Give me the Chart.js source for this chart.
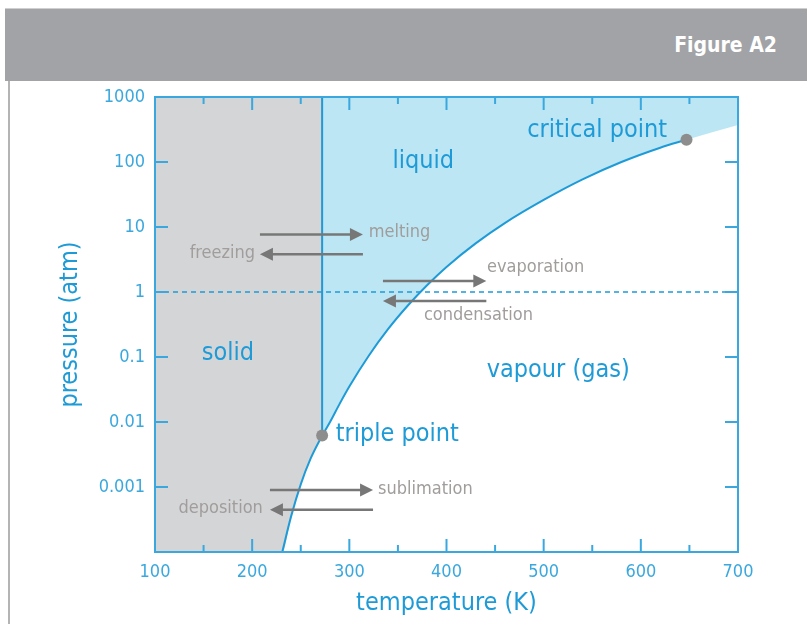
<!DOCTYPE html>
<html>
<head>
<meta charset="utf-8">
<title>Figure A2</title>
<script src="https://cdn.jsdelivr.net/npm/chart.js@4.4.1/dist/chart.umd.min.js"></script>
<style>
  body { margin: 0; background: #fff; }
  #wrap { position: relative; width: 807px; height: 624px; overflow: hidden; }
  #header {
    position: absolute; left: 5px; top: 8px; width: 802px; height: 73px;
    background: #a2a3a6; border-top: 1px solid #cfcfcf;
    color: #fff; font: bold 21px "Liberation Sans Narrow", "DejaVu Sans Condensed", sans-serif;
    line-height: 73px; text-align: right; box-sizing: border-box; padding-right: 30px;
  }
  #edge { position: absolute; left: 8px; top: 81px; width: 2px; height: 543px; background: #b4b4b4; }
  #chart { position: absolute; left: 0; top: 0; }
</style>
</head>
<body>
<div id="wrap">
  <div id="header">Figure A2</div>
  <div id="edge"></div>
  <canvas id="chart" width="807" height="624"></canvas>
</div>
<script>
// axis ticks
const xTicks = [100, 200, 300, 400, 500, 600, 700];
const xMinorTicks = [150, 250, 350, 450, 550, 650];
const yTicks = [1000, 100, 10, 1, 0.1, 0.01, 0.001];
const yTickLabels = ['1000', '100', '10', '1', '0.1', '0.01', '0.001'];

// phase boundaries (temperature K, pressure atm)
const sublimationT = [231, 240, 250, 260, 272];
const sublimationP = [0.0001, 0.00035, 0.0011, 0.0027, 0.0062];
const meltingT = [272, 272];
const meltingP = [0.0062, 1000];
const vapourT = [272, 280, 290, 300, 320, 340, 360, 380, 400, 430, 460, 500, 540, 580, 620, 647];
const vapourP = [0.0062, 0.0099, 0.019, 0.0351, 0.1045, 0.27, 0.614, 1.27, 2.43, 5.6, 11.5, 26.1, 54, 100, 166, 220];
const beyondT = [700];
const beyondP = [372];
const atmT = [100, 700];
const atmP = [1, 1];
const specialT = [272, 647];   // triple point, critical point
const specialP = [0.0062, 220];

const FONT = '"Liberation Sans Narrow", "DejaVu Sans Condensed", sans-serif';
const BLUE = '#1e9bd7';
const TICKBLUE = '#3aa8de';

const zip = (xs, ys) => xs.map((x, i) => ({ x: x, y: ys[i] }));

// annotations, anchored in data units
const regionLabels = [
  { text: 'solid', t: 175, p: 0.112, align: 'center' },
  { text: 'liquid', t: 376, p: 101, align: 'center' },
  { text: 'critical point', t: 555, p: 300, align: 'center' },
  { text: 'vapour (gas)', t: 515, p: 0.062, align: 'center' },
  { text: 'triple point', t: 286, p: 0.0065, align: 'left' }
];
const processLabels = [
  { text: 'melting', t: 320, p: 8.3, align: 'left' },
  { text: 'freezing', t: 203, p: 3.95, align: 'right' },
  { text: 'evaporation', t: 441.7, p: 2.41, align: 'left' },
  { text: 'condensation', t: 376.8, p: 0.43, align: 'left' },
  { text: 'sublimation', t: 329.5, p: 0.00093, align: 'left' },
  { text: 'deposition', t: 211, p: 0.000477, align: 'right' }
];

const arrows = [
  { from: 208, to: 314, p: 7.7 },
  { from: 314, to: 208, p: 3.82 },
  { from: 334.6, to: 441, p: 1.47 },
  { from: 441, to: 334.6, p: 0.73 },
  { from: 218.3, to: 324.4, p: 0.0009 },
  { from: 324.4, to: 218.3, p: 0.000445 }
];

const overlay = {
  id: 'overlay',
  afterDatasetsDraw(chart) {
    const { ctx, chartArea: a, scales: { x, y } } = chart;
    ctx.save();

    // frame
    ctx.strokeStyle = TICKBLUE;
    ctx.lineWidth = 2;
    ctx.strokeRect(a.left, a.top, a.right - a.left, a.bottom - a.top);

    // inner tick marks
    ctx.beginPath();
    x.ticks.forEach(t => {
      const px = x.getPixelForValue(t.value);
      const len = xTicks.includes(t.value) ? 13 : 7;
      ctx.moveTo(px, a.bottom); ctx.lineTo(px, a.bottom - len);
      ctx.moveTo(px, a.top); ctx.lineTo(px, a.top + len);
    });
    y.ticks.forEach(t => {
      const py = y.getPixelForValue(t.value);
      ctx.moveTo(a.left, py); ctx.lineTo(a.left + 13, py);
      ctx.moveTo(a.right, py); ctx.lineTo(a.right - 13, py);
    });
    ctx.stroke();

    // arrows
    ctx.strokeStyle = '#777';
    ctx.fillStyle = '#777';
    ctx.lineWidth = 2.5;
    arrows.forEach(ar => {
      const x1 = x.getPixelForValue(ar.from);
      const x2 = x.getPixelForValue(ar.to);
      const py = y.getPixelForValue(ar.p);
      const dir = x2 > x1 ? 1 : -1;
      ctx.beginPath();
      ctx.moveTo(x1, py); ctx.lineTo(x2 - dir * 10, py);
      ctx.stroke();
      ctx.beginPath();
      ctx.moveTo(x2, py);
      ctx.lineTo(x2 - dir * 13, py - 6.5);
      ctx.lineTo(x2 - dir * 13, py + 6.5);
      ctx.closePath();
      ctx.fill();
    });

    // text
    ctx.textBaseline = 'middle';
    ctx.fillStyle = BLUE;
    ctx.font = '25px ' + FONT;
    regionLabels.forEach(l => {
      ctx.textAlign = l.align;
      ctx.fillText(l.text, x.getPixelForValue(l.t), y.getPixelForValue(l.p));
    });
    ctx.fillStyle = '#a09d9b';
    ctx.font = '18px ' + FONT;
    processLabels.forEach(l => {
      ctx.textAlign = l.align;
      ctx.fillText(l.text, x.getPixelForValue(l.t), y.getPixelForValue(l.p));
    });
    ctx.restore();
  }
};

new Chart(document.getElementById('chart'), {
  type: 'line',
  data: {
    datasets: [
      {
        // triple / critical points
        data: zip(specialT, specialP),
        showLine: false,
        pointRadius: 6,
        pointBackgroundColor: '#8d8d8d',
        pointBorderWidth: 0,
        order: 0
      },
      {
        data: zip(vapourT, vapourP),
        borderColor: BLUE, borderWidth: 2, pointRadius: 0,
        cubicInterpolationMode: 'monotone', fill: false, order: 1
      },
      {
        data: zip(sublimationT, sublimationP),
        borderColor: BLUE, borderWidth: 2, pointRadius: 0,
        cubicInterpolationMode: 'monotone', fill: false, order: 1
      },
      {
        data: zip(meltingT, meltingP),
        borderColor: BLUE, borderWidth: 2, pointRadius: 0, fill: false, order: 1
      },
      {
        data: zip(atmT, atmP),
        borderColor: BLUE, borderWidth: 1.5, borderDash: [5, 4], pointRadius: 0, fill: false, order: 2
      },
      {
        // liquid region
        data: zip(vapourT.concat(beyondT), vapourP.concat(beyondP)),
        borderWidth: 0, pointRadius: 0, cubicInterpolationMode: 'monotone',
        fill: 'end', backgroundColor: '#bce6f4', order: 5
      },
      {
        // solid region
        data: zip([100].concat(sublimationT), [0.0001].concat(sublimationP)),
        borderWidth: 0, pointRadius: 0, cubicInterpolationMode: 'monotone',
        fill: 'end', backgroundColor: '#d4d5d7', order: 5
      }
    ]
  },
  options: {
    responsive: false,
    animation: false,
    events: [],
    layout: { padding: { left: 52, top: 97, right: 69, bottom: 0 } },
    plugins: { legend: { display: false }, tooltip: { enabled: false } },
    scales: {
      x: {
        type: 'linear', min: 100, max: 700,
        afterBuildTicks: s => { s.ticks = xTicks.concat(xMinorTicks).sort((a, b) => a - b).map(v => ({ value: v })); },
        afterFit: s => { s.height = 72; },
        grid: { display: false, drawTicks: false },
        border: { display: false },
        ticks: {
          color: TICKBLUE, font: { family: FONT, size: 18 }, padding: 10,
          maxRotation: 0, autoSkip: false,
          callback: v => xTicks.includes(v) ? String(v) : ''
        },
        title: {
          display: true, text: 'temperature (K)', color: BLUE,
          font: { family: FONT, size: 25 }, padding: { top: 0, bottom: 6 }
        }
      },
      y: {
        type: 'logarithmic', min: 0.0001, max: 1000,
        afterBuildTicks: s => { s.ticks = yTicks.map(v => ({ value: v })); },
        afterFit: s => { s.width = 103; },
        grid: { display: false, drawTicks: false },
        border: { display: false },
        ticks: {
          color: TICKBLUE, font: { family: FONT, size: 18 }, padding: 10,
          autoSkip: false,
          callback: v => yTickLabels[yTicks.indexOf(v)]
        },
        title: {
          display: true, text: 'pressure (atm)', color: BLUE,
          font: { family: FONT, size: 25 }, padding: { top: 3, bottom: 0 }
        }
      }
    }
  },
  plugins: [overlay]
});
</script>
</body>
</html>
